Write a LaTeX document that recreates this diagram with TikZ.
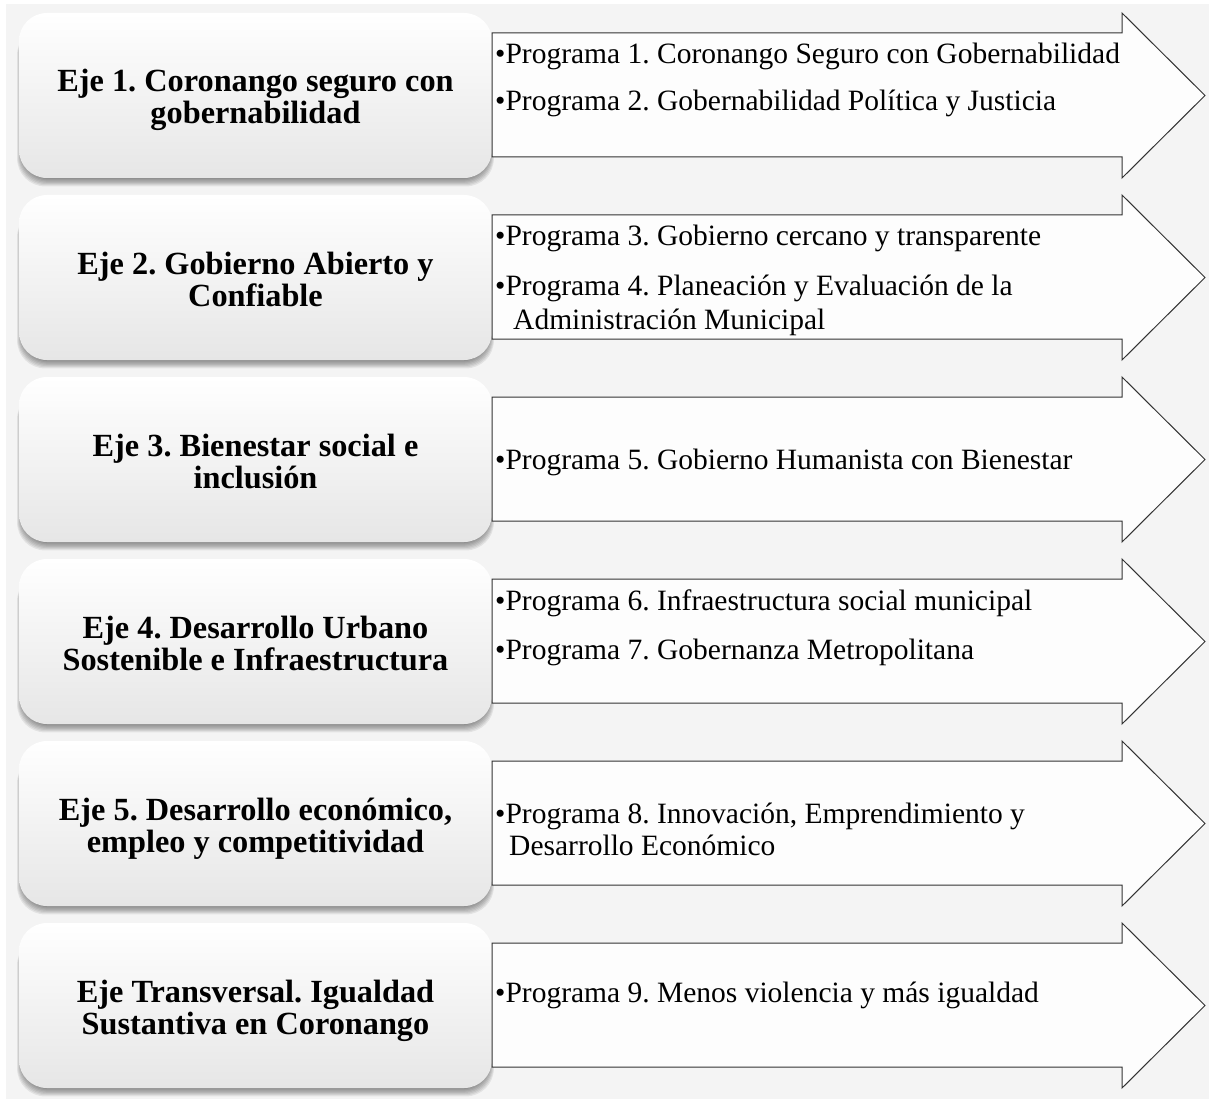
\documentclass[tikz,border=0pt]{standalone}
\usepackage{fontspec}
\setmainfont{Liberation Serif}
\frenchspacing
\definecolor{bgc}{HTML}{F4F4F4}
\definecolor{boxmid}{HTML}{FBFBFB}
\definecolor{boxbot}{HTML}{E6E6E6}
\definecolor{arrowfill}{HTML}{FDFDFD}
\definecolor{arrowline}{HTML}{333333}
\tikzset{
  ejetxt/.style={font=\fontsize{32.3}{32}\selectfont\bfseries, inner sep=0pt, anchor=base},
  progtxt/.style={font=\fontsize{29.5}{34}\selectfont, inner sep=0pt, anchor=base west},
  arrowshape/.style={fill=arrowfill, draw=arrowline, line width=1pt, line join=miter},
  ejebox/.style={top color=white, middle color=boxmid, bottom color=boxbot, rounded corners=28pt},
}
\begin{document}
\frenchspacing
\begin{tikzpicture}[x=1pt,y=-1pt]
\useasboundingbox (0,0) rectangle (1209,1099);
\fill[bgc] (6,4) rectangle (1209,1099);
\foreach \t in {13,195,377,559,741,923}{
  % soft shadow
  \foreach \s in {0,1,2,3,4,5,6,7}{
    \fill[black, opacity=0.07, rounded corners=28pt]
      (22-0.7*\s,\t+14) rectangle (489+0.7*\s,\t+165+1.2*\s);
  }
  \shade[ejebox] (19,\t) rectangle (492,\t+165);
  \draw[arrowshape] (492,\t+20) -- (1122,\t+20) -- (1122,\t) -- (1205,\t+82.5)
     -- (1122,\t+165) -- (1122,\t+144) -- (492,\t+144) -- cycle;
}
% Eje labels
\node[ejetxt] (e1a) at (255.5,92) {Eje 1. Coronango seguro con};
\node[ejetxt] (e1b) at (255.5,124) {gobernabilidad};
\node[ejetxt] (e2a) at (255.5,274) {Eje 2. Gobierno Abierto y};
\node[ejetxt] (e2b) at (255.5,306) {Confiable};
\node[ejetxt] (e3a) at (255.5,456) {Eje 3. Bienestar social e};
\node[ejetxt] (e3b) at (255.5,488) {inclusión};
\node[ejetxt] (e4a) at (255.5,638) {Eje 4. Desarrollo Urbano};
\node[ejetxt] (e4b) at (255.5,670) {Sostenible e Infraestructura};
\node[ejetxt] (e5a) at (255.5,820) {Eje 5. Desarrollo económico,};
\node[ejetxt] (e5b) at (255.5,852) {empleo y competitividad};
\node[ejetxt] (e6a) at (255.5,1002) {Eje Transversal. Igualdad};
\node[ejetxt] (e6b) at (255.5,1034) {Sustantiva en Coronango};
% Programas
\node[progtxt] (p1) at (495,64) {•Programa 1. Coronango Seguro con Gobernabilidad};
\node[progtxt] (p2) at (495,111) {•Programa 2. Gobernabilidad Política y Justicia};
\node[progtxt] (p3) at (495,246) {•Programa 3. Gobierno cercano y transparente};
\node[progtxt] (p4) at (495,295) {•Programa 4. Planeación y Evaluación de la};
\node[progtxt] (p4b) at (513,329) {Administración Municipal};
\node[progtxt] (p5) at (495,469) {•Programa 5. Gobierno Humanista con Bienestar};
\node[progtxt] (p6) at (495,610) {•Programa 6. Infraestructura social municipal};
\node[progtxt] (p7) at (495,659) {•Programa 7. Gobernanza Metropolitana};
\node[progtxt] (p8) at (495,823) {•Programa 8. Innovación, Emprendimiento y};
\node[progtxt] (p8b) at (509,855) {Desarrollo Económico};
\node[progtxt] (p9) at (495,1002) {•Programa 9. Menos violencia y más igualdad};
\end{tikzpicture}
\end{document}
